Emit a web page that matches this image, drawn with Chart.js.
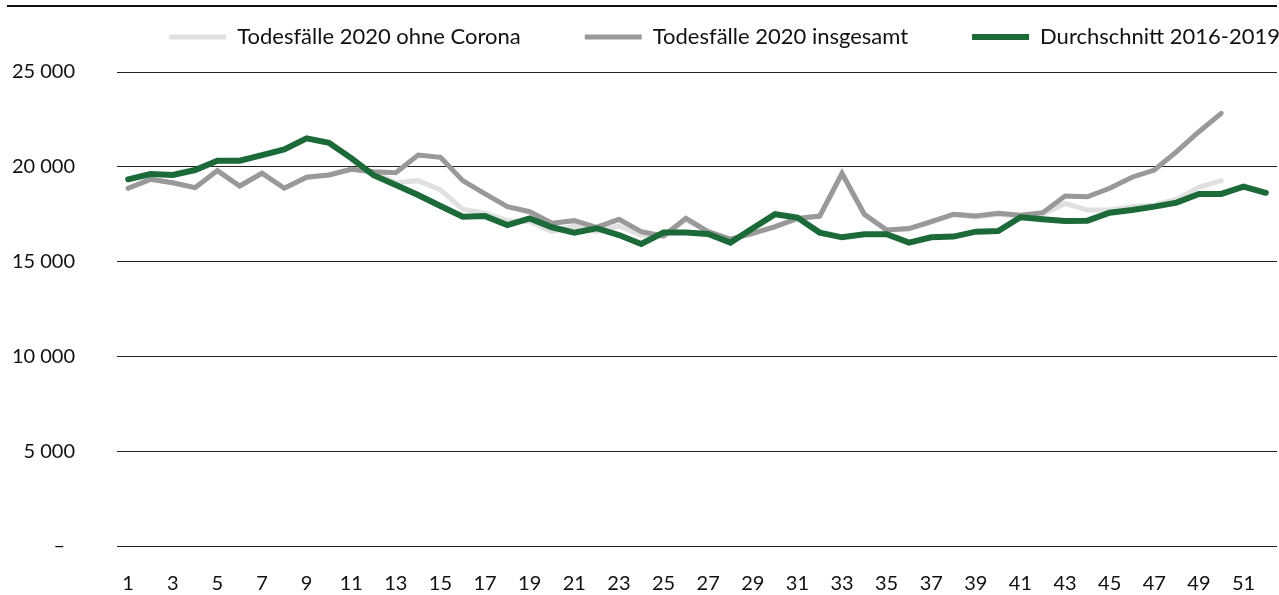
<!doctype html>
<html lang="de">
  <head>
    <meta charset="utf-8">
    <title>Todesfälle 2020</title>
    <style>
      html, body { margin: 0; padding: 0; background: #fff; }
      #wrap { position: relative; width: 1279px; height: 595px; }
      #topline { position: absolute; left: 7px; right: 2px; top: 5px; border-top: 2px solid #111; }
      canvas { display: block; }
    </style>
  </head>
  <body>
    <div id="wrap">
      <div id="topline"></div>
      <canvas id="chart" width="1279" height="595"></canvas>
    </div>

    <script src="https://cdn.jsdelivr.net/npm/chart.js"></script>
    <script>
        // Kalenderwochen 1-52
        const weeks = [];
        for (let i = 1; i <= 52; i++) weeks.push(String(i));

        const yTicks = [0, 5000, 10000, 15000, 20000, 25000];

        const ohneCorona = [
            18870, 19340, 19160, 18900, 19800, 18990, 19660, 18870, 19450, 19570,
            19870, 19740, 19160, 19270, 18780, 17760, 17550, 17160, 17110, 16580,
            16880, 16580, 16880, 16400, 16350, 17200, 16560, 16170, 16480, 16820,
            17260, 17380, 19620, 17480, 16650, 16720, 17080, 17470, 17350, 17500,
            17380, 17500, 18070, 17720, 17720, 17900, 17990, 18290, 18920, 19270
        ];

        const insgesamt = [
            18870, 19340, 19160, 18900, 19800, 18990, 19660, 18870, 19450, 19570,
            19870, 19740, 19690, 20620, 20500, 19270, 18570, 17900, 17630, 17020,
            17160, 16810, 17230, 16580, 16350, 17280, 16580, 16180, 16490, 16840,
            17280, 17400, 19660, 17500, 16670, 16740, 17110, 17500, 17400, 17550,
            17440, 17580, 18460, 18420, 18870, 19450, 19830, 20800, 21850, 22820
        ];

        const durchschnitt = [
            19340, 19620, 19570, 19830, 20320, 20320, 20620, 20920, 21500, 21270,
            20460, 19560, 19040, 18510, 17930, 17370, 17400, 16930, 17280, 16810,
            16530, 16760, 16400, 15930, 16530, 16530, 16460, 16000, 16760, 17500,
            17320, 16530, 16280, 16440, 16440, 16000, 16280, 16320, 16580, 16610,
            17340, 17230, 17140, 17160, 17580, 17720, 17900, 18110, 18570, 18570,
            18950, 18630
        ];

        const FONT = 'Lato, "Noto Sans", sans-serif';
        const LEGEND_GAP = 64;

        function fmt(v) {
            if (v === 0) return '–\u2002';
            return String(v).replace(/\B(?=(\d{3})+(?!\d))/g, ' ');
        }

        // Legende: feste Höhe, Einträge weit auseinander und rechtsbündig
        const legendPlace = {
            id: 'legendPlace',
            beforeInit(chart) {
                const fit = chart.legend.fit;
                chart.legend.fit = function () {
                    fit.bind(chart.legend)();
                    this.height = 72;
                };
            },
            afterLayout(chart) {
                const lg = chart.legend;
                lg.top = 38 - LEGEND_GAP - 12;
                lg.right = 1280 + LEGEND_GAP;
            }
        };

        const ctx = document.getElementById('chart');

        new Chart(ctx, {
            type: 'line',
            data: {
                labels: weeks,
                datasets: [{
                    label: 'Todesfälle 2020 ohne Corona',
                    data: ohneCorona,
                    borderColor: '#e0e0e0',
                    backgroundColor: '#e0e0e0',
                    borderWidth: 5,
                    borderCapStyle: 'round',
                    pointRadius: 0,
                    tension: 0,
                    order: 3
                }, {
                    label: 'Todesfälle 2020 insgesamt',
                    data: insgesamt,
                    borderColor: '#999999',
                    backgroundColor: '#999999',
                    borderWidth: 5,
                    borderCapStyle: 'round',
                    pointRadius: 0,
                    tension: 0,
                    order: 2
                }, {
                    label: 'Durchschnitt 2016-2019',
                    data: durchschnitt,
                    borderColor: '#1b6a38',
                    backgroundColor: '#1b6a38',
                    borderWidth: 6,
                    borderCapStyle: 'round',
                    pointRadius: 0,
                    tension: 0,
                    order: 1
                }]
            },
            options: {
                responsive: false,
                animation: false,
                layout: { padding: { top: 0, right: 2, bottom: 0, left: 0 } },
                plugins: {
                    tooltip: { enabled: false },
                    legend: {
                        position: 'top',
                        align: 'end',
                        labels: {
                            usePointStyle: true,
                            pointStyle: 'line',
                            pointStyleWidth: 57,
                            boxHeight: 6,
                            padding: LEGEND_GAP,
                            color: '#111',
                            font: { family: FONT, size: 22 },
                            sort: (a, b) => a.datasetIndex - b.datasetIndex
                        }
                    }
                },
                scales: {
                    x: {
                        offset: true,
                        afterFit: function (scale) { scale.height = 49; },
                        // Abstand der Beschriftung über tickLength, damit rechts kein Rand entsteht
                        grid: { display: false, drawTicks: true, tickLength: 26 },
                        border: { display: false },
                        ticks: {
                            autoSkip: false,
                            maxRotation: 0,
                            padding: 0,
                            color: '#111',
                            font: { family: FONT, size: 20 },
                            callback: function (val, i) { return i % 2 === 0 ? weeks[i] : ''; }
                        }
                    },
                    y: {
                        min: 0,
                        max: 25000,
                        afterFit: function (scale) { scale.width = 117; },
                        afterBuildTicks: function (scale) { scale.ticks = yTicks.map(v => ({ value: v })); },
                        // unsichtbare Tick-Striche als Abstand zwischen Beschriftung und Raster
                        grid: { color: '#222', lineWidth: 1, drawTicks: true, tickLength: 42, tickColor: 'rgba(0,0,0,0)' },
                        border: { display: false },
                        ticks: {
                            padding: 0,
                            color: '#111',
                            font: { family: FONT, size: 20 },
                            callback: fmt
                        }
                    }
                }
            },
            plugins: [legendPlace]
        });
    </script>
  </body>
</html>
